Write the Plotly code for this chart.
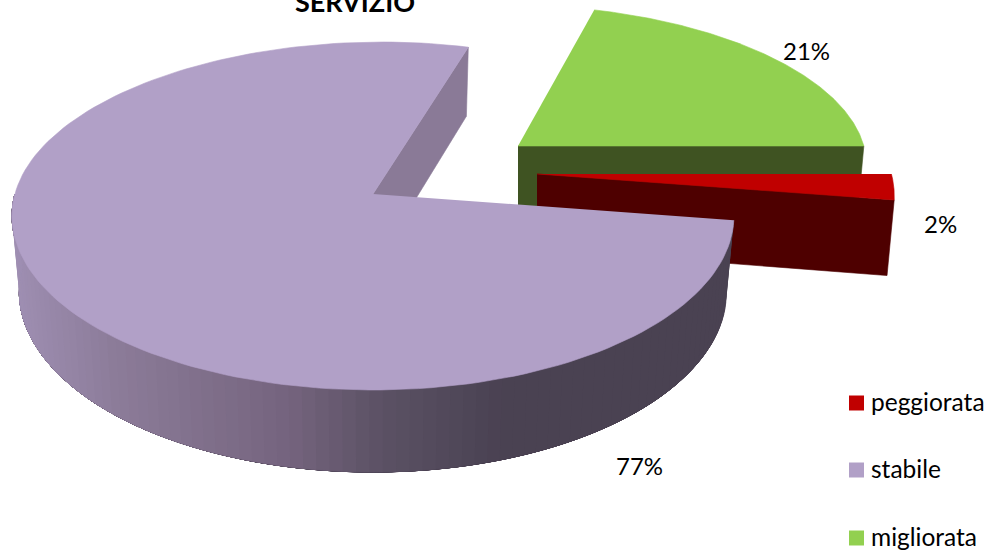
import numpy as np
import plotly.graph_objects as go

# data (shares rounded to whole percent in the labels)
categories = ["peggiorata", "stabile", "migliorata"]
values = [2.4, 77.0, 20.6]
colors_top = ["#c00000", "#b1a0c7", "#92d050"]
colors_wall = ["#4e0000", "#8a7a97", "#3f5322"]

# projection of the pie on the page
P = 0.1265
RX, RY = 358.0, 171.2
START = 0.0  # angle where the first slice starts, degrees, clockwise on screen
apex = {"peggiorata": (537, 174), "stabile": (373, 194), "migliorata": (518, 146)}
scale_x = {"peggiorata": 0.99, "stabile": 1.0, "migliorata": 0.966}
scale_y = {"peggiorata": 0.99, "stabile": 1.0, "migliorata": 0.927}
skew = {"peggiorata": 0.0, "stabile": 0.00038, "migliorata": -0.00043}
wall_stops_x = [15, 120, 290, 380, 500, 735]
wall_stops_rgb = [(160, 144, 180), (140, 124, 153), (117, 100, 126), (92, 82, 101), (74, 66, 82), (74, 66, 82)]


def top_pts(name, deg):
    a = np.radians(np.asarray(deg, dtype=float))
    u, v = np.cos(a), -np.sin(a)
    w = 1 - P * v
    sy = scale_y[name] * RY * v / w
    sx = scale_x[name] * RX * u / w + skew[name] * np.minimum(sy, 0) ** 2
    return sx, sy


def lower(sx, sy):
    return 0.98 * sx, sy + 74.6 + 0.0379 * sy


def poly(fig, xs, ys, color, width=0.6):
    fig.add_trace(go.Scatter(x=list(xs), y=list(ys), mode="lines", fill="toself", fillcolor=color,
                             line=dict(color=color, width=width), hoverinfo="skip", showlegend=False))


ang = {}
cur = START
for n, val in zip(categories, values):
    span = val / sum(values) * 360
    ang[n] = (cur - span, cur)  # clockwise on screen
    cur -= span

fig = go.Figure()


def straight_wall(name, deg):
    ax, ay = apex[name]
    sx, sy = top_pts(name, [deg])
    lx, ly = lower(sx, sy)
    lax, lay = lower(np.array([0.0]), np.array([0.0]))
    poly(fig, [ax, ax + sx[0], ax + lx[0], ax + lax[0]], [ay, ay + sy[0], ay + ly[0], ay + lay[0]],
         colors_wall[categories.index(name)])


def top_face(name):
    a0, a1 = ang[name]
    t = np.linspace(a0, a1, 160)
    sx, sy = top_pts(name, t)
    ax, ay = apex[name]
    poly(fig, np.r_[ax, ax + sx], np.r_[ay, ay + sy], colors_top[categories.index(name)])


# migliorata
straight_wall("migliorata", ang["migliorata"][0])
top_face("migliorata")

# peggiorata
straight_wall("peggiorata", ang["peggiorata"][0])
top_face("peggiorata")

# stabile: inner wall, outer gradient wall, top
a0, a1 = ang["stabile"]
straight_wall("stabile", a0)
ax, ay = apex["stabile"]
edges = np.linspace(a1, -180, 91)
for d0 in edges[:-1]:
    # each band runs on to the end of the wall, the next one paints over it: no seams
    t = np.linspace(d0, -180, 120)
    sx, sy = top_pts("stabile", t)
    lx, ly = lower(sx, sy)
    s0x, s0y = top_pts("stabile", [d0, d0 - 2.0])
    l0x, _ = lower(s0x, s0y)
    rgb = [np.interp(ax + l0x.mean(), wall_stops_x, [c[i] for c in wall_stops_rgb]) for i in range(3)]
    col = "rgb(%d,%d,%d)" % tuple(rgb)
    poly(fig, np.r_[ax + sx, ax + lx[::-1]], np.r_[ay + sy, ay + ly[::-1]], col, width=0.3)
top_face("stabile")

annots = []
label_pos = {"migliorata": (806, 50), "peggiorata": (940, 223), "stabile": (639, 465)}
for n, val in zip(categories, values):
    annots.append(dict(x=label_pos[n][0], y=label_pos[n][1], xref="x", yref="y", showarrow=False,
                       text=f"{round(val)}%", font=dict(family="Lato", size=24, color="#000000")))
annots.append(dict(x=355, y=1, xref="x", yref="y", showarrow=False, text="<b>SERVIZIO</b>",
                   font=dict(family="Lato", size=27, color="#000000")))

# legend, as keys and names
legend_y = {"peggiorata": 403, "stabile": 470, "migliorata": 538}
for n, c in zip(categories, colors_top):
    fig.add_trace(go.Scatter(x=[856.5], y=[legend_y[n]], mode="markers", name=n, showlegend=False,
                             hoverinfo="name", marker=dict(symbol="square", size=15, color=c)))
    annots.append(dict(x=869, y=legend_y[n] - 1.5, xref="x", yref="y", showarrow=False, xanchor="left",
                       text=n, font=dict(family="Lato", size=24.5, color="#000000")))

fig.update_layout(
    width=988, height=555, margin=dict(l=0, r=0, t=0, b=0, autoexpand=False),
    paper_bgcolor="white", plot_bgcolor="white", showlegend=False,
    xaxis=dict(range=[0, 988], visible=False, fixedrange=True),
    yaxis=dict(range=[555, 0], visible=False, fixedrange=True),
    annotations=annots,
)
fig.write_html("out.html", config={"displayModeBar": False},
               post_script="document.body.style.margin='0';document.body.style.overflow='hidden';")
